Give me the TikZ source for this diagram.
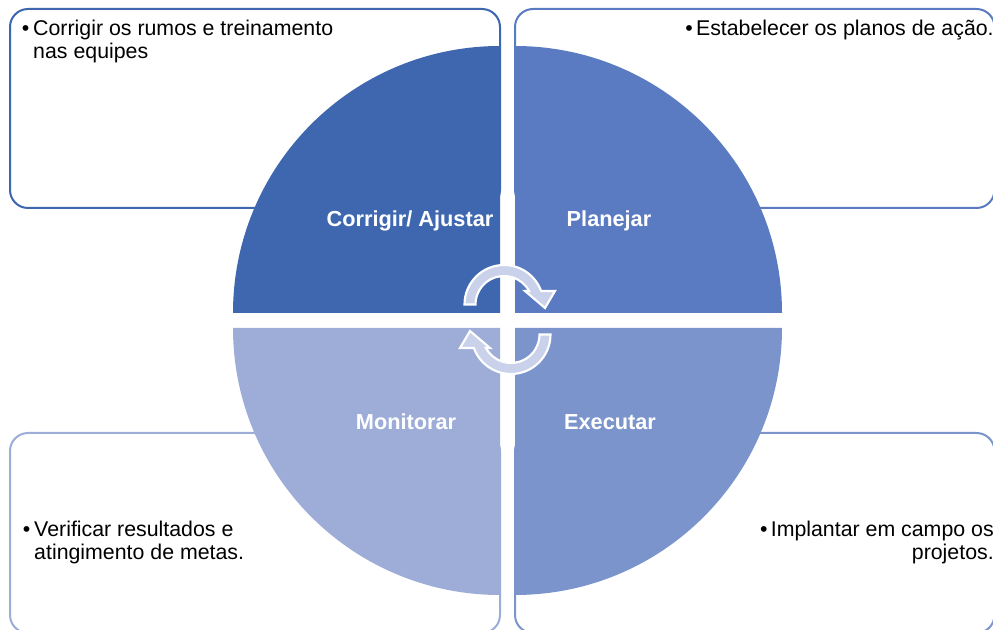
\documentclass[tikz,border=0pt]{standalone}
\usepackage{fontspec}
\setmainfont{Liberation Sans}
\usetikzlibrary{calc}
\definecolor{cTL}{HTML}{3E67B0}
\definecolor{cTR}{HTML}{5A7BC2}
\definecolor{cBR}{HTML}{7B95CC}
\definecolor{cBL}{HTML}{9EADD8}
\definecolor{arrfill}{HTML}{C9D1EB}
\begin{document}
\begin{tikzpicture}[x=0.75pt,y=0.75pt,
  infobox/.style={line width=1.5pt, rounded corners=13.5pt},
  lbl/.style={text=white, font=\fontsize{16.3}{18}\selectfont\bfseries, anchor=base, inner sep=0pt},
  body/.style={font=\fontsize{16}{16.5}\selectfont, inner sep=0pt, text=black},
  cyc/.style={draw=white, line width=1.6pt, fill=arrfill, line join=miter}
]
\useasboundingbox (0,0) rectangle (993,-630);
\fill[white] (0,0) rectangle (993,-630);
\clip (0,0) rectangle (993,-630);
% text boxes
\draw[infobox, draw=cTL] (10,-9) rectangle (500,-208);
\draw[infobox, draw=cTR] (515,-9) rectangle (994.5,-208);
\draw[infobox, draw=cBL] (10,-433) rectangle (500,-633);
\draw[infobox, draw=cBR] (515,-433) rectangle (994.5,-633);
% quadrants
\fill[cTL] (500,-313) -- (233,-313) arc[start angle=180, end angle=90, radius=267] -- cycle;
\fill[cTR] (515,-313) -- (515,-46) arc[start angle=90, end angle=0, radius=267] -- cycle;
\fill[cBR] (515,-328) -- (782,-328) arc[start angle=0, end angle=-90, radius=267] -- cycle;
\fill[cBL] (500,-328) -- (500,-595) arc[start angle=270, end angle=180, radius=267] -- cycle;
% labels
\node[lbl] (corr) at (410,-226.5) {Corrigir/ Ajustar};
\node[lbl] (plan) at (609,-226.5) {Planejar};
\node[lbl] (moni) at (406,-429.5) {Monitorar};
\node[lbl] (exec) at (610,-429.5) {Executar};
% box texts
\node[body, anchor=base west] (tTL) at (21.5,-36) {\begin{tabular}[t]{@{}l@{\hspace{3pt}}l@{}}\textbullet & Corrigir os rumos e treinamento\\ & nas equipes\end{tabular}};
\node[body, anchor=base east] (tTR) at (994,-36) {\textbullet\hspace{2.5pt}Estabelecer os planos de ação.};
\node[body, anchor=base west] (tBL) at (22.5,-537) {\begin{tabular}[t]{@{}l@{\hspace{3pt}}l@{}}\textbullet & Verificar resultados e\\ & atingimento de metas.\end{tabular}};
\node[body, anchor=base east] (tBR) at (994,-537) {\begin{tabular}[t]{@{}r@{}}\textbullet\hspace{2.5pt}Implantar em campo os\\ projetos.\end{tabular}};
% circular arrows
\coordinate (c1) at (504,-304.5);
\coordinate (c2) at (511,-334.5);
\draw[cyc] ($(c1)+(180:39.5)$) arc[start angle=180, end angle=20, radius=39.5]
  -- ($(c1)+(51,13.5)$) -- ($(c1)+(41,-3.5)$) -- ($(c1)+(21,13.5)$) -- ($(c1)+(28.3:28.5)$)
  arc[start angle=28.3, end angle=180, radius=28.5] -- cycle;
\draw[cyc] ($(c2)+(0:39.5)$) arc[start angle=0, end angle=-160, radius=39.5]
  -- ($(c2)+(-51,-13.5)$) -- ($(c2)+(-41,3.5)$) -- ($(c2)+(-21,-13.5)$) -- ($(c2)+(-151.7:28.5)$)
  arc[start angle=-151.7, end angle=0, radius=28.5] -- cycle;
\end{tikzpicture}
\end{document}
